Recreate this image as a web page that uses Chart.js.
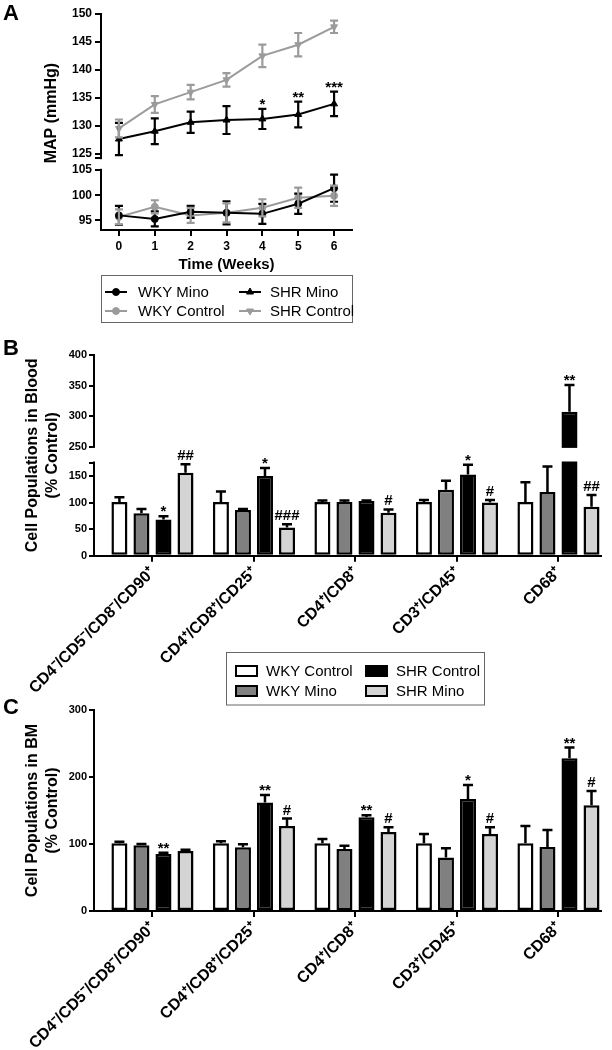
<!DOCTYPE html>
<html><head><meta charset="utf-8">
<script src="https://cdn.jsdelivr.net/npm/chart.js@4.4.1/dist/chart.umd.min.js"></script>
<style>
html,body{margin:0;padding:0;background:#fff;}
body{width:612px;height:1050px;position:relative;overflow:hidden;}
canvas{position:absolute;left:0;}
</style></head><body>
<canvas id="cA" width="612" height="330" style="top:0px"></canvas>
<canvas id="cB" width="612" height="380" style="top:330px"></canvas>
<canvas id="cC" width="612" height="355" style="top:695px"></canvas>
<script>
// ---------------- Panel A data (MAP, mmHg) ----------------
const weeks = [0, 1, 2, 3, 4, 5, 6];
const weekLabels = ['0', '1', '2', '3', '4', '5', '6'];
const wkyMino = [96.0, 95.3, 96.7, 96.5, 96.3, 98.3, 101.4];
const wkyMinoErr = [1.9, 1.5, 1.2, 2.3, 2.0, 2.0, 2.7];
const wkyControl = [95.7, 97.7, 96.0, 96.5, 97.5, 99.5, 99.9];
const wkyControlErr = [1.5, 1.3, 1.5, 1.9, 1.7, 2.0, 2.0];
const shrMino = [127.6, 129.0, 130.6, 131.0, 131.2, 132.0, 133.9];
const shrMinoErr = [2.9, 2.3, 1.9, 2.5, 1.8, 2.3, 2.2];
const shrControl = [129.5, 133.8, 136.0, 138.2, 142.5, 144.5, 147.7];
const shrControlErr = [1.6, 1.5, 1.3, 1.2, 2.0, 2.1, 1.1];
const shrMinoSig = ['', '', '', '', '*', '**', '***'];
const mapTicks = [95, 100, 105, 125, 130, 135, 140, 145, 150];

// ---------------- Panels B / C data (% Control) ----------------
const cellTypes = ['CD4\u207B/CD5\u207B/CD8\u207B/CD90\u207A', 'CD4\u207A/CD8\u207A/CD25\u207A', 'CD4\u207A/CD8\u207A', 'CD3\u207A/CD45\u207A', 'CD68\u207A'];
const bloodWkyControl = [101, 101, 101, 101, 101];
const bloodWkyControlErr = [9, 20, 3, 4, 37];
const bloodWkyMino = [80, 86, 101, 124, 120];
const bloodWkyMinoErr = [8, 2, 3, 17, 48];
const bloodShrControl = [68, 150, 103, 153, 307];
const bloodShrControlErr = [6, 15, 1, 18, 44];
const bloodShrMino = [156, 53, 81, 100, 92];
const bloodShrMinoErr = [16, 6, 6, 5, 22];
const bloodShrControlSig = ['*', '*', '', '*', '**'];
const bloodShrMinoSig = ['##', '###', '#', '#', '##'];
const bloodTicks = [0, 50, 100, 150, 250, 300, 350, 400];

const bmWkyControl = [101, 101, 101, 101, 101];
const bmWkyControlErr = [2.5, 3, 6.5, 14, 26];
const bmWkyMino = [98, 95, 92.5, 80, 95.5];
const bmWkyMinoErr = [2, 4.5, 5, 13.5, 25.5];
const bmShrControl = [85, 162, 140, 167, 228];
const bmShrControlErr = [2, 11, 3, 21, 16];
const bmShrMino = [89.5, 127, 118, 115, 158];
const bmShrMinoErr = [2, 11, 7, 10, 21];
const bmShrControlSig = ['**', '**', '**', '*', '**'];
const bmShrMinoSig = ['', '#', '#', '#', '#'];
const bmTicks = [0, 100, 200, 300];

// ---------------- setup ----------------
const FONT = "'Liberation Sans', Arial, Helvetica, sans-serif";
Chart.defaults.font.family = FONT;
Chart.defaults.color = '#000';
Chart.defaults.animation = false;

const GREY_LINE = '#9b9b9b';
const FILL_WKY_MINO = '#808080';
const FILL_SHR_MINO = '#d4d4d4';

// axis breaks (value ranges of the two segments and their share of the axis)
const BREAKS = {
  cA: { lower: [93.1, 105], upper: [124.2, 150], split: [0.2778, 0.3333] },
  cB: { lower: [0, 175], upper: [250, 400], split: [0.4634, 0.5431] }
};

const LinearScale = Chart.registry.getScale('linear');
class BrokenLinearScale extends LinearScale {
  getPixelForValue(value) {
    const b = BREAKS[this.chart.canvas.id];
    if (!b || value === null || value === undefined) return super.getPixelForValue(value);
    const [l0, l1] = b.lower, [u0, u1] = b.upper, [d0, d1] = b.split;
    let dec;
    if (value <= l1) dec = (value - l0) / (l1 - l0) * d0;
    else if (value >= u0) dec = d1 + (value - u0) / (u1 - u0) * (1 - d1);
    else dec = d0 + (value - l1) / (u0 - l1) * (d1 - d0);
    return this.getPixelForDecimal(dec);
  }
  getValueForPixel(pixel) {
    const b = BREAKS[this.chart.canvas.id];
    if (!b) return super.getValueForPixel(pixel);
    const [l0, l1] = b.lower, [u0, u1] = b.upper, [d0, d1] = b.split;
    const dec = this.getDecimalForPixel(pixel);
    if (dec <= d0) return l0 + dec / d0 * (l1 - l0);
    if (dec >= d1) return u0 + (dec - d1) / (1 - d1) * (u1 - u0);
    return l1 + (dec - d0) / (d1 - d0) * (u0 - l1);
  }
}
BrokenLinearScale.id = 'brokenLinear';
BrokenLinearScale.defaults = LinearScale.defaults;
Chart.register(BrokenLinearScale);

// ---------------- drawing helpers ----------------
function clearGap(chart) {
  const b = BREAKS[chart.canvas.id];
  if (!b) return;
  const ys = chart.scales.y, ca = chart.chartArea;
  const p0 = ys.getPixelForValue(b.lower[1]);
  const p1 = ys.getPixelForValue(b.upper[0]);
  const top = Math.min(p0, p1) + 1.2, bot = Math.max(p0, p1) - 1.2;
  chart.ctx.save();
  chart.ctx.fillStyle = '#fff';
  chart.ctx.fillRect(ca.left - 2, top, ca.right - ca.left + 4, bot - top);
  chart.ctx.restore();
}

function drawErrors(chart, both, capW, lw) {
  const ctx = chart.ctx, ys = chart.scales.y;
  chart.data.datasets.forEach((ds, i) => {
    if (!ds.errors) return;
    const meta = chart.getDatasetMeta(i);
    ctx.save();
    ctx.strokeStyle = ds.errorColor || '#000';
    ctx.lineWidth = lw;
    meta.data.forEach((el, j) => {
      const v = ds.data[j].y, e = ds.errors[j];
      if (!e) return;
      const x = el.x;
      const yTop = ys.getPixelForValue(v + e);
      const yBot = ys.getPixelForValue(both ? v - e : v);
      ctx.beginPath();
      ctx.moveTo(x, yBot); ctx.lineTo(x, yTop);
      ctx.moveTo(x - capW / 2, yTop); ctx.lineTo(x + capW / 2, yTop);
      if (both) { ctx.moveTo(x - capW / 2, yBot); ctx.lineTo(x + capW / 2, yBot); }
      ctx.stroke();
    });
    ctx.restore();
  });
}

function drawSig(chart) {
  const ctx = chart.ctx, ys = chart.scales.y;
  ctx.save();
  ctx.font = 'bold 15px ' + FONT;
  ctx.fillStyle = '#000';
  ctx.textAlign = 'center';
  ctx.textBaseline = 'alphabetic';
  chart.data.datasets.forEach((ds, i) => {
    if (!ds.sig) return;
    const meta = chart.getDatasetMeta(i);
    meta.data.forEach((el, j) => {
      const s = ds.sig[j];
      if (!s) return;
      const yTop = ys.getPixelForValue(ds.data[j].y + (ds.errors ? ds.errors[j] : 0));
      ctx.fillText(s, el.x, yTop - (s.indexOf('#') >= 0 ? 4 : 0));
    });
  });
  ctx.restore();
}

function drawLetter(chart, letter, x, y) {
  const ctx = chart.ctx;
  ctx.save();
  ctx.font = 'bold 22px ' + FONT;
  ctx.fillStyle = '#000';
  ctx.textAlign = 'left';
  ctx.textBaseline = 'alphabetic';
  ctx.fillText(letter, x, y);
  ctx.restore();
}

// ---------------- Panel A ----------------
const ptsA = arr => weeks.map((w, i) => ({ x: w, y: arr[i] }));
const decorA = {
  id: 'decorA',
  afterDatasetsDraw(chart) {
    clearGap(chart);
    drawErrors(chart, true, 8, 2.2);
    drawSig(chart);
  },
  afterDraw(chart) {
    const ctx = chart.ctx;
    drawLetter(chart, 'A', 3, 20);
    ctx.save();
    ctx.strokeStyle = '#666';
    ctx.lineWidth = 1;
    ctx.strokeRect(101.5, 275.5, 251, 47);
    const items = [
      { ds: 1, x: 105, y: 292, tx: 138, text: 'WKY Mino' },
      { ds: 0, x: 239, y: 292, tx: 270, text: 'SHR Mino' },
      { ds: 3, x: 105, y: 311, tx: 138, text: 'WKY Control' },
      { ds: 2, x: 239, y: 311, tx: 270, text: 'SHR Control' }
    ];
    items.forEach(it => {
      const ds = chart.data.datasets[it.ds];
      ctx.strokeStyle = ds.borderColor;
      ctx.lineWidth = 2;
      ctx.beginPath(); ctx.moveTo(it.x, it.y); ctx.lineTo(it.x + 22, it.y); ctx.stroke();
      ctx.fillStyle = ds.backgroundColor;
      ctx.lineWidth = 1;
      Chart.helpers.drawPoint(ctx, { pointStyle: ds.pointStyle, radius: ds.pointRadius, rotation: ds.pointRotation || 0, borderWidth: 1 }, it.x + 11, it.y);
      ctx.fillStyle = '#000';
      ctx.font = '15px ' + FONT;
      ctx.textAlign = 'left';
      ctx.textBaseline = 'middle';
      ctx.fillText(it.text, it.tx, it.y + 1);
    });
    ctx.restore();
  }
};

new Chart(document.getElementById('cA'), {
  type: 'line',
  data: {
    datasets: [
      { label: 'SHR Mino', data: ptsA(shrMino), errors: shrMinoErr, sig: shrMinoSig, errorColor: '#000',
        borderColor: '#000', backgroundColor: '#000', borderWidth: 2, pointStyle: 'triangle', pointRadius: 4, pointBorderWidth: 1 },
      { label: 'WKY Mino', data: ptsA(wkyMino), errors: wkyMinoErr, errorColor: '#000',
        borderColor: '#000', backgroundColor: '#000', borderWidth: 2, pointStyle: 'circle', pointRadius: 3.5, pointBorderWidth: 1 },
      { label: 'SHR Control', data: ptsA(shrControl), errors: shrControlErr, errorColor: GREY_LINE,
        borderColor: GREY_LINE, backgroundColor: GREY_LINE, borderWidth: 2, pointStyle: 'triangle', pointRotation: 180, pointRadius: 4, pointBorderWidth: 1 },
      { label: 'WKY Control', data: ptsA(wkyControl), errors: wkyControlErr, errorColor: GREY_LINE,
        borderColor: GREY_LINE, backgroundColor: GREY_LINE, borderWidth: 2, pointStyle: 'circle', pointRadius: 3.5, pointBorderWidth: 1 }
    ]
  },
  options: {
    responsive: false,
    animation: false,
    events: [],
    layout: { padding: { left: 0, right: 260, top: 14, bottom: 50 } },
    plugins: { legend: { display: false }, tooltip: { enabled: false } },
    scales: {
      x: {
        type: 'linear', min: -0.5, max: 6.5, offset: false,
        afterBuildTicks: s => { s.ticks = weeks.map(v => ({ value: v })); },
        afterFit: s => { s.height = 50; },
        ticks: { callback: v => weekLabels[weeks.indexOf(v)], font: { size: 12, weight: 'bold' }, padding: 3, autoSkip: false, maxRotation: 0, minRotation: 0 },
        grid: { display: true, drawOnChartArea: false, tickLength: 6, color: '#000', lineWidth: 2, offset: false },
        border: { display: true, color: '#000', width: 2 },
        title: { display: true, text: 'Time (Weeks)', font: { size: 15, weight: 'bold', lineHeight: 1.2 }, padding: { top: 0, bottom: 6 } }
      },
      y: {
        type: 'brokenLinear', min: 93.1, max: 150,
        afterBuildTicks: s => { s.ticks = mapTicks.concat([BREAKS.cA.upper[0]]).sort((a, b) => a - b).map(v => ({ value: v })); },
        afterFit: s => { s.width = 101; },
        ticks: { callback: v => (mapTicks.indexOf(v) >= 0 ? String(v) : ''), font: { size: 12, weight: 'bold' }, padding: 3, autoSkip: false },
        grid: { display: true, drawOnChartArea: false, tickLength: 6, color: '#000', lineWidth: 2 },
        border: { display: true, color: '#000', width: 2 },
        title: { display: true, text: '    MAP (mmHg)', font: { size: 16, weight: 'bold', lineHeight: 1.25 }, padding: { top: 42, bottom: 0 } }
      }
    }
  },
  plugins: [decorA]
});

// ---------------- Panels B and C ----------------
const barDs = (label, vals, errs, fill, sig) => ({
  label, data: vals.map((v, i) => ({ x: i, y: v })), errors: errs, sig,
  backgroundColor: fill, borderColor: '#000', borderWidth: 2.5, borderSkipped: false,
  categoryPercentage: 0.868, barPercentage: 0.727
});

const catX = {
  type: 'linear', min: -0.576, max: 4.419, offset: false,
  afterBuildTicks: s => { s.ticks = cellTypes.map((_, i) => ({ value: i })); },
  ticks: { callback: v => cellTypes[v], font: { size: 16, weight: 'bold' }, padding: 2, autoSkip: false, minRotation: 45, maxRotation: 45 },
  grid: { display: true, drawOnChartArea: false, tickLength: 6, color: '#000', lineWidth: 2, offset: false },
  border: { display: true, color: '#000', width: 2 }
};

const legendItems = [
  { text: 'WKY Control', fill: '#ffffff' },
  { text: 'WKY Mino', fill: FILL_WKY_MINO },
  { text: 'SHR Control', fill: '#000000' },
  { text: 'SHR Mino', fill: FILL_SHR_MINO }
];

const decorB = {
  id: 'decorB',
  afterDatasetsDraw(chart) {
    clearGap(chart);
    drawErrors(chart, false, 10, 2.5);
    drawSig(chart);
  },
  afterDraw(chart) {
    const ctx = chart.ctx;
    drawLetter(chart, 'B', 3, 25);
    // shared legend for panels B and C
    ctx.save();
    ctx.strokeStyle = '#666';
    ctx.lineWidth = 1;
    ctx.strokeRect(226.5, 322.5, 258, 52.5);
    const pos = [[235, 341], [235, 361], [365, 341], [365, 361]];
    legendItems.forEach((it, k) => {
      const [x, y] = pos[k];
      ctx.fillStyle = it.fill;
      ctx.fillRect(x, y - 6, 23, 12);
      ctx.strokeStyle = '#000';
      ctx.lineWidth = 2;
      ctx.strokeRect(x + 1, y - 5, 21, 10);
      ctx.fillStyle = '#000';
      ctx.font = '15px ' + FONT;
      ctx.textAlign = 'left';
      ctx.textBaseline = 'middle';
      ctx.fillText(it.text, x + 31, y + 1);
    });
    ctx.restore();
  }
};

new Chart(document.getElementById('cB'), {
  type: 'bar',
  data: {
    datasets: [
      barDs('WKY Control', bloodWkyControl, bloodWkyControlErr, '#ffffff'),
      barDs('WKY Mino', bloodWkyMino, bloodWkyMinoErr, FILL_WKY_MINO),
      barDs('SHR Control', bloodShrControl, bloodShrControlErr, '#000000', bloodShrControlSig),
      barDs('SHR Mino', bloodShrMino, bloodShrMinoErr, FILL_SHR_MINO, bloodShrMinoSig)
    ]
  },
  options: {
    responsive: false,
    animation: false,
    events: [],
    layout: { padding: { left: 0, right: 11, top: 25, bottom: 0 } },
    plugins: { legend: { display: false }, tooltip: { enabled: false } },
    scales: {
      x: Object.assign({}, catX, { afterFit: s => { s.height = 154.3; } }),
      y: {
        type: 'brokenLinear', min: 0, max: 400,
        afterBuildTicks: s => { s.ticks = bloodTicks.concat([BREAKS.cB.lower[1]]).sort((a, b) => a - b).map(v => ({ value: v })); },
        afterFit: s => { s.width = 94; },
        ticks: { callback: v => (bloodTicks.indexOf(v) >= 0 ? String(v) : ''), font: { size: 11, weight: 'bold' }, padding: 2, autoSkip: false },
        grid: { display: true, drawOnChartArea: false, tickLength: 5, color: '#000', lineWidth: 2 },
        border: { display: true, color: '#000', width: 2 },
        title: { display: true, text: ['Cell Populations in Blood', '(% Control)'], font: { size: 16, weight: 'bold', lineHeight: 1.25 }, padding: { top: 23, bottom: 0 } }
      }
    }
  },
  plugins: [decorB]
});

const decorC = {
  id: 'decorC',
  afterDatasetsDraw(chart) {
    drawErrors(chart, false, 10, 2.5);
    drawSig(chart);
  },
  afterDraw(chart) {
    drawLetter(chart, 'C', 3, 19);
  }
};

new Chart(document.getElementById('cC'), {
  type: 'bar',
  data: {
    datasets: [
      barDs('WKY Control', bmWkyControl, bmWkyControlErr, '#ffffff'),
      barDs('WKY Mino', bmWkyMino, bmWkyMinoErr, FILL_WKY_MINO),
      barDs('SHR Control', bmShrControl, bmShrControlErr, '#000000', bmShrControlSig),
      barDs('SHR Mino', bmShrMino, bmShrMinoErr, FILL_SHR_MINO, bmShrMinoSig)
    ]
  },
  options: {
    responsive: false,
    animation: false,
    events: [],
    layout: { padding: { left: 0, right: 11, top: 15, bottom: 0 } },
    plugins: { legend: { display: false }, tooltip: { enabled: false } },
    scales: {
      x: Object.assign({}, catX, { afterFit: s => { s.height = 139; } }),
      y: {
        type: 'linear', min: 0, max: 300,
        afterBuildTicks: s => { s.ticks = bmTicks.map(v => ({ value: v })); },
        afterFit: s => { s.width = 94; },
        ticks: { callback: v => String(v), font: { size: 11, weight: 'bold' }, padding: 2, autoSkip: false },
        grid: { display: true, drawOnChartArea: false, tickLength: 5, color: '#000', lineWidth: 2 },
        border: { display: true, color: '#000', width: 2 },
        title: { display: true, text: ['Cell Populations in BM', '(% Control)'], font: { size: 16, weight: 'bold', lineHeight: 1.25 }, padding: { top: 23, bottom: 0 } }
      }
    }
  },
  plugins: [decorC]
});
</script>
</body></html>
